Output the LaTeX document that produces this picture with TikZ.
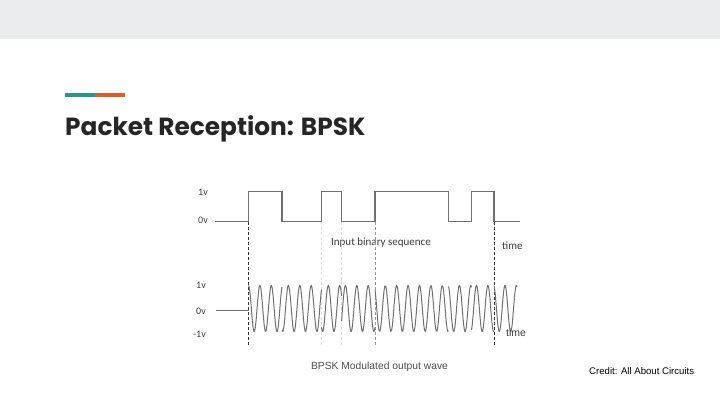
\documentclass[tikz,border=0pt]{standalone}
\usepackage{fontspec}
\setmainfont{Liberation Sans}
\newfontfamily\titlefont{Poppins}
\newfontfamily\labelfont{Carlito}
\usetikzlibrary{positioning}

\definecolor{bandgray}{HTML}{E8ECEC}
\definecolor{accentteal}{HTML}{26998C}
\definecolor{accentorange}{HTML}{D9601E}
\definecolor{wavegray}{HTML}{707070}
\definecolor{textgray}{HTML}{3A3A3A}

\begin{document}
\begin{tikzpicture}[
  x=1pt, y=-1pt,
  level/.style={
    font=\labelfont\fontsize{10}{11}\selectfont,
    text=textgray,
    inner sep=0pt
  },
  caption/.style={
    font=\labelfont\fontsize{11}{13}\selectfont,
    text=textgray,
    inner sep=0pt
  },
  square/.style={
    draw=wavegray,
    line width=1.8pt,
    line join=miter
  },
  carrier/.style={
    draw=wavegray,
    line width=1pt
  },
  marker/.style={
    densely dashed,
    line width=0.6pt,
    draw=black!80
  },
  faint/.style={
    densely dashed,
    line width=0.5pt,
    draw=black!13
  }
]
\useasboundingbox (0,0) rectangle (720,405);

% Slide header
\fill[bandgray] (0,0) rectangle (720,38.5);
\fill[accentteal] (65,93) rectangle (95,97);
\fill[accentorange] (95,93) rectangle (125,97);
\node[anchor=base west,inner sep=0pt,font=\titlefont\bfseries\fontsize{24.8}{28}\selectfont,text=black!85]
  (title) at (65,135.5) {Packet Reception: BPSK};

% Input binary sequence
\node[level,anchor=east] (hiA) at (208,192) {1v};
\node[level,anchor=east] (loA) at (208,220.5) {0v};
\draw[square] (215,221.5) -| (248.5,191.5) -| (282,221.5) -| (321.5,191.5)
  -| (341.5,221.5) -| (375,191.5) -| (448.5,221.5) -| (471.5,191.5)
  -| (494,221.5) -- (520,221.5);
\node[caption] (seq) at (381,242.5) {Input binary sequence};
\node[caption,anchor=west] (timeA) at (502,245.5) {time};

% Bit boundaries
\draw[marker] (248.5,222) -- (248.5,345);
\draw[marker] (494,222) -- (494,345);
\foreach \bx in {321.5,341.5}
  \draw[faint] (\bx,222) -- (\bx,345);
\draw[faint,draw=black!40] (375,222) -- (375,345);

% BPSK modulated wave
\node[level,anchor=east] (hiB) at (206,285.5) {1v};
\node[level,anchor=east] (midB) at (206,311) {0v};
\node[level,anchor=east] (lowB) at (206,334.5) {-1v};
\draw[carrier] (216,310.5) -- (248.5,310.5);
\foreach \a/\b/\s in {248.5/282/1, 282/321.5/-1, 321.5/341.5/1, 341.5/375/-1,
                      375/448.5/1, 448.5/471.5/-1, 471.5/494/1, 494/517/-1}
  \draw[carrier] plot[domain=\a:\b, samples=90, smooth]
    (\x,{308.5-23*\s*cos((\x-248.5)/11.4*360)});
\node[caption,anchor=west,font=\rmfamily\fontsize{10.5}{12}\selectfont] (timeB) at (506,332.5) {time};

% Captions
\node[caption,font=\rmfamily\fontsize{10.3}{12}\selectfont,text=black!70] (outwave) at (379.5,367) {BPSK Modulated output wave};
\node[inner sep=0pt,font=\rmfamily\fontsize{9.6}{11}\selectfont,anchor=west] (credit) at (589,371.5) {Credit: All About Circuits};
\end{tikzpicture}
\end{document}
